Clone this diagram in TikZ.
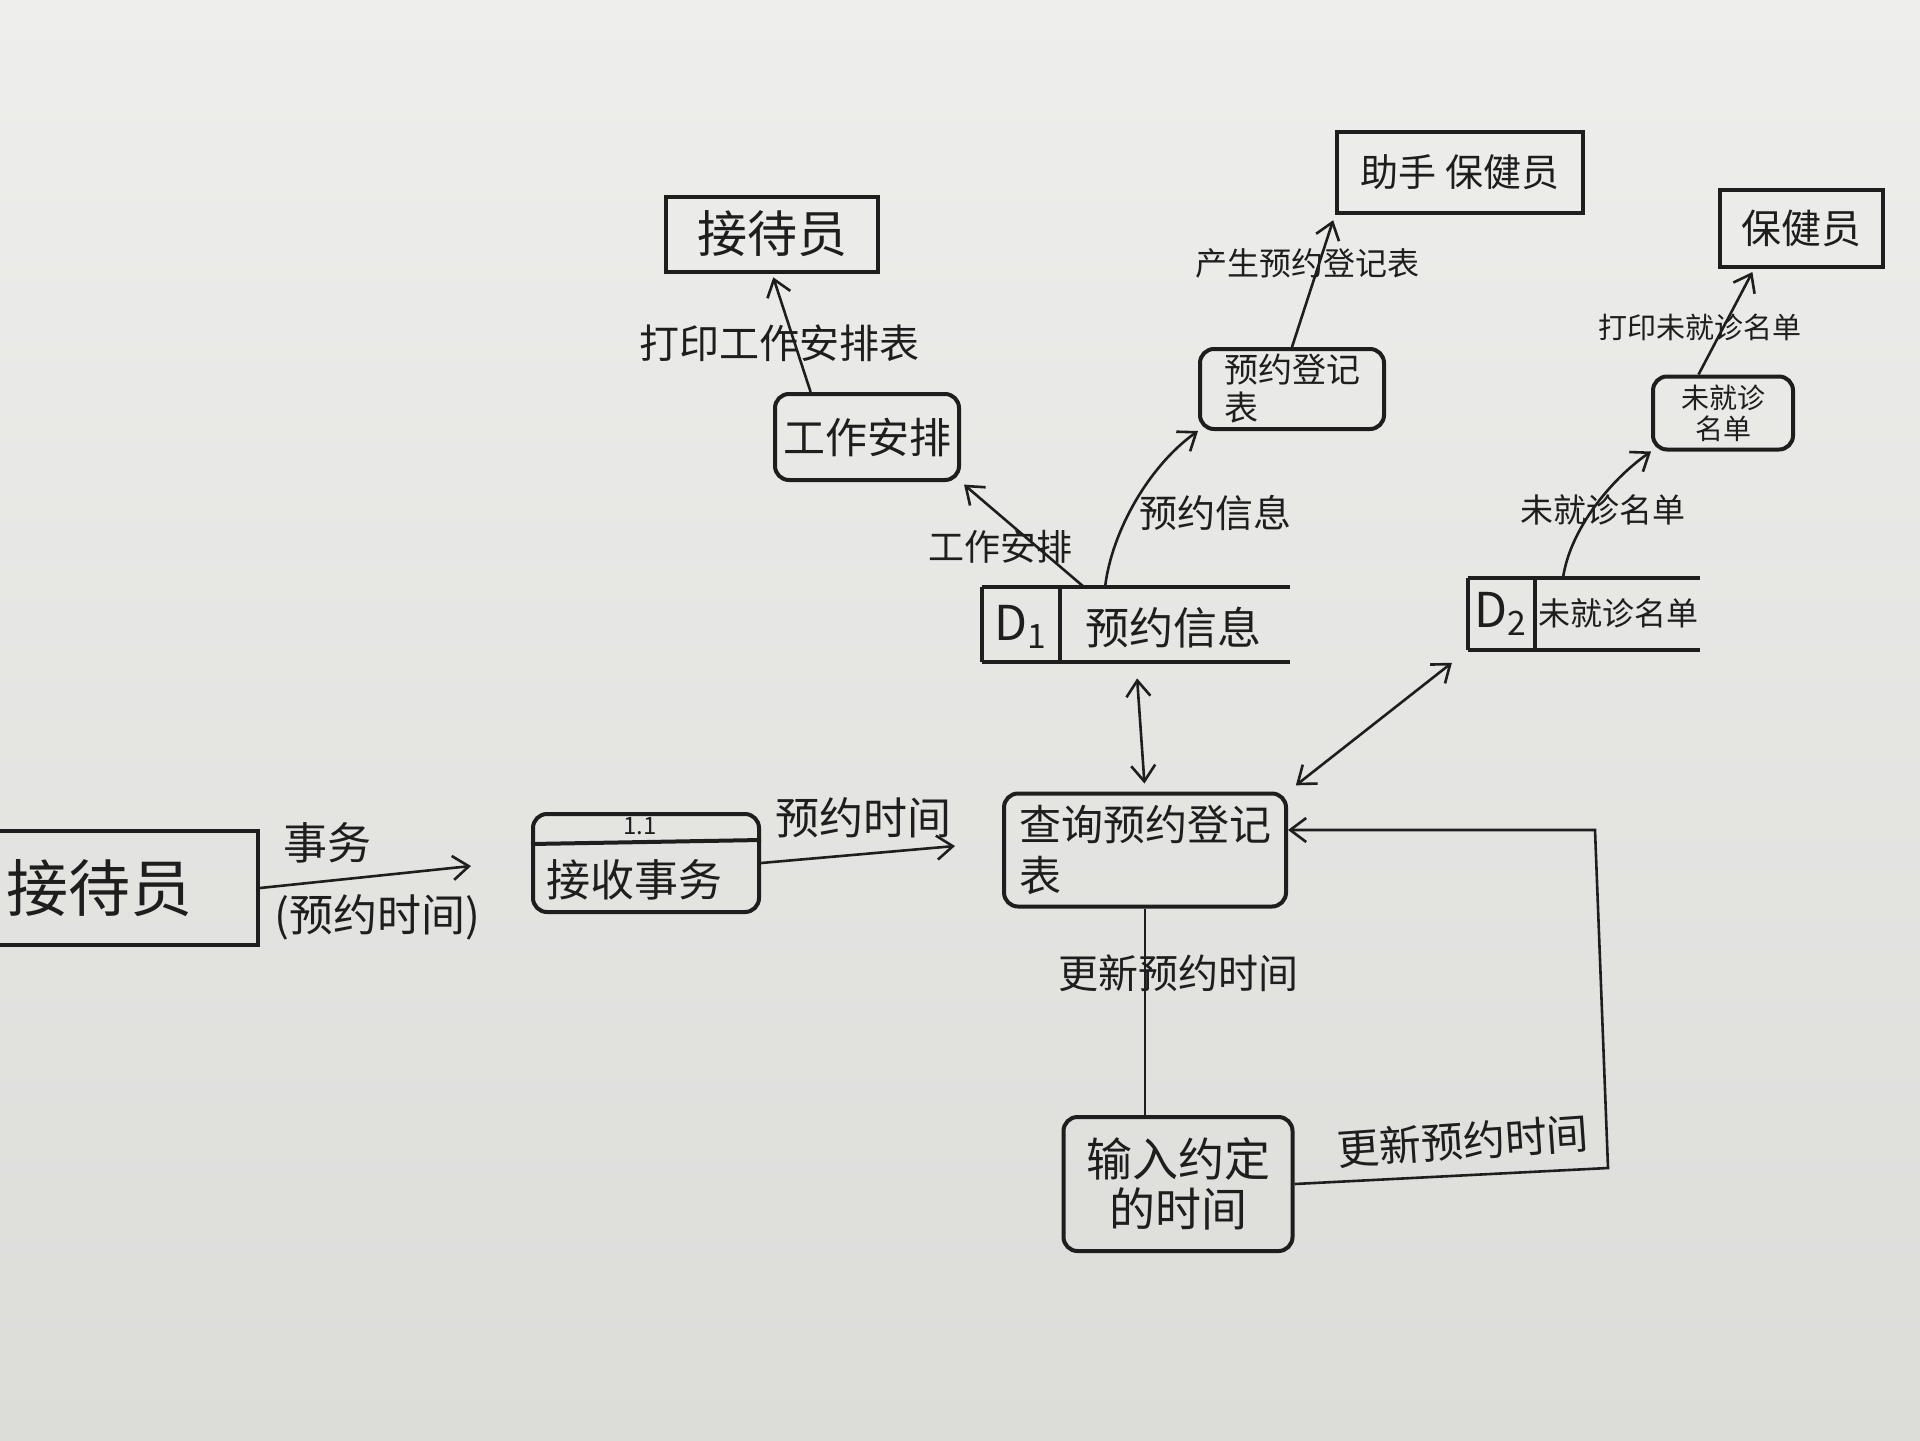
\documentclass[tikz,border=0pt]{standalone}
\usepackage{fontspec}
\setmainfont{Noto Sans CJK SC}
\usetikzlibrary{arrows.meta,calc}
\definecolor{ink}{HTML}{1E1E1E}
\definecolor{papertop}{HTML}{EEEEEC}
\definecolor{paperbot}{HTML}{DCDCD9}
\newcommand{\fsz}[2]{\fontsize{#1pt}{#2pt}\selectfont}
\begin{document}
\begin{tikzpicture}[x=0.5pt,y=-0.5pt,
  every node/.style={text=ink,inner sep=0pt},
  ent/.style={draw=ink,line width=2pt,rectangle},
  proc/.style={draw=ink,line width=2pt,rectangle,rounded corners=7pt},
  storebox/.style={rectangle},
  boxline/.style={draw=ink,line width=2pt},
  plain/.style={draw=ink,line width=1.3pt},
  flow/.style={draw=ink,line width=1.3pt,-{Straight Barb[length=8pt,width=12pt,line width=1.3pt]}},
  dflow/.style={draw=ink,line width=1.3pt,{Straight Barb[length=8pt,width=12pt,line width=1.3pt]}-{Straight Barb[length=8pt,width=12pt,line width=1.3pt]}}
]
\shade[top color=papertop,bottom color=paperbot] (0,0) rectangle (1920,1440);
\useasboundingbox (0,0) rectangle (1920,1440);

% external entities
\node[ent,minimum width=106pt,minimum height=37.5pt,font=\fsz{25}{30}] (entTop) at (772,234) {接待员};
\node[ent,minimum width=123pt,minimum height=40.5pt,font=\fsz{19}{23}] (eAsst) at (1460,172) {助手\ 保健员};
\node[ent,minimum width=81.5pt,minimum height=38.5pt,font=\fsz{20}{24}] (eDoc) at (1801,228) {保健员};
\node[ent,minimum width=159pt,minimum height=57pt,font=\fsz{31}{36}] (entLeft) at (99,888) {接待员};

% processes
\node[proc,minimum width=92pt,minimum height=43pt,font=\fsz{21}{25}] (pWork) at (867,437) {工作安排};
\node[proc,minimum width=92pt,minimum height=40pt,font=\fsz{17}{19},align=left] (pReg) at (1292,389) {预约登记\\表};
\node[proc,minimum width=70pt,minimum height=36.5pt,font=\fsz{14}{15.5},align=center] (pMiss) at (1723,413) {未就诊\\名单};
\node[proc,minimum width=113pt,minimum height=49pt] (pRecv) at (646,863) {};
\node[font=\fsz{12}{14}] (pRecvId) at (640,826) {1.1};
\node[font=\fsz{22}{26}] (pRecvName) at (634,880) {接收事务};
\draw[boxline] (pRecv.west |- 0,844) -- (pRecv.east |- 0,840);
\node[proc,minimum width=141pt,minimum height=56.5pt,font=\fsz{21}{25.5},align=left] (pQuery) at (1145,850) {查询预约登记\\表};
\node[proc,minimum width=114.5pt,minimum height=67pt,font=\fsz{23}{25},align=center] (pInput) at (1178,1184) {输入约定\\的时间};

% data stores
\node[storebox,minimum width=154pt,minimum height=37.5pt] (d1) at (1136,624.5) {};
\draw[boxline] (d1.north west) -- (d1.north east);
\draw[boxline] (d1.south west) -- (d1.south east);
\draw[boxline] (d1.north west) -- (d1.south west);
\draw[boxline] (d1.north west -| 1060,0) -- (d1.south west -| 1060,0);
\node[font=\fsz{24}{28}] (d1id) at (1021,627) {D\textsubscript{1}};
\node[font=\fsz{22}{26}] (d1name) at (1173,628) {预约信息};

\node[storebox,minimum width=116pt,minimum height=36pt] (d2) at (1584,614) {};
\draw[boxline] (d2.north west) -- (d2.north east);
\draw[boxline] (d2.south west) -- (d2.south east);
\draw[boxline] (d2.north west) -- (d2.south west);
\draw[boxline] (d2.north west -| 1535,0) -- (d2.south west -| 1535,0);
\node[font=\fsz{24}{28}] (d2id) at (1501,614) {D\textsubscript{2}};
\node[font=\fsz{16}{20}] (d2name) at (1618,613) {未就诊名单};

% labels
\node[font=\fsz{20}{24}] (lPrintWork) at (779,343) {打印工作安排表};
\node[font=\fsz{16}{20}] (lProduce) at (1307,263) {产生预约登记表};
\node[font=\fsz{14.5}{18}] (lPrintMiss) at (1700,327) {打印未就诊名单};
\node[font=\fsz{16.5}{20}] (lMiss) at (1603,510) {未就诊名单};
\node[font=\fsz{19}{23}] (lInfo) at (1215,513) {预约信息};
\node[font=\fsz{18}{22}] (lWork) at (1000,547) {工作安排};
\node[font=\fsz{22}{26}] (lTrans) at (327,843) {事务};
\node[font=\fsz{22}{26}] (lTransTime) at (377,917) {(预约时间)};
\node[font=\fsz{22}{26}] (lTime) at (863,818) {预约时间};
\node[font=\fsz{21}{25}, rotate=4] (lUpd2) at (1463,1141) {更新预约时间};

% connectors
\coordinate (aEnd) at (471,866);
\draw[flow] (entLeft.east) -- (aEnd);
\coordinate (bEnd) at (955,846);
\draw[flow] (pRecv.east) -- (bEnd);
\draw[dflow,shorten <=8pt,shorten >=4pt] (d1.south) -- (pQuery.north);
\draw[dflow,shorten <=10pt,shorten >=5pt] (d2.south west) -- (pQuery.north east);
\draw[plain] (pQuery.south) -- (pQuery.south |- pInput.north);
\node[font=\fsz{20}{24}] (lUpd1) at (1178,973) {更新预约时间};
\coordinate (loopA) at (1608,1168);
\coordinate (loopB) at (1595,830);
\draw[flow] (pInput.east) -- (loopA) -- (loopB) -- (pQuery.east |- loopB);
\draw[flow,shorten >=2pt] ($(d1.north west)!0.33!(d1.north east)$) -- (pWork.south east);
\coordinate (hS) at ($(d1.north west)!0.4!(d1.north east)$);
\draw[flow] (hS) .. controls (1112,530) and (1150,465) .. (pReg.south west);
\draw[flow,shorten >=3pt] (pReg.north) -- (eAsst.south west);
\draw[flow,shorten >=2pt] ($(pWork.north west)!0.2!(pWork.north east)$) -- (entTop.south);
\coordinate (kS) at ($(d2.north west)!0.41!(d2.north east)$);
\draw[flow] (kS) .. controls (1570,530) and (1610,480) .. (pMiss.south west);
\draw[flow,shorten >=2pt] ($(pMiss.north west)!0.33!(pMiss.north east)$) -- ($(eDoc.south west)!0.22!(eDoc.south east)$);
\end{tikzpicture}
\end{document}
